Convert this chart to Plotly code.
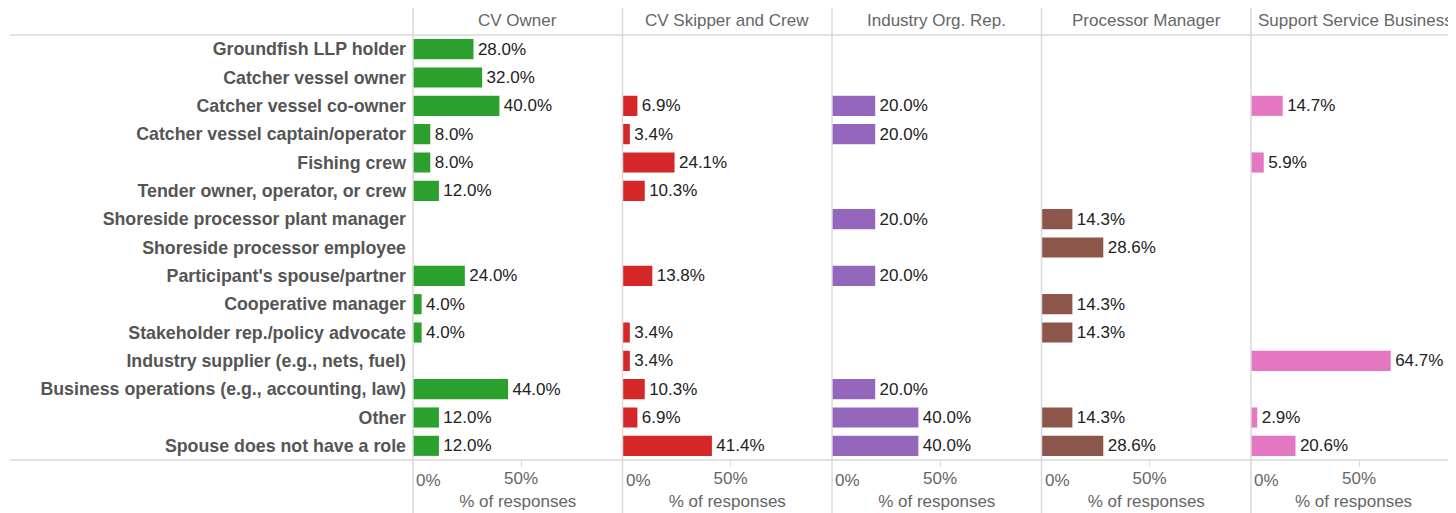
import plotly.graph_objects as go

roles = [
    "Groundfish LLP holder",
    "Catcher vessel owner",
    "Catcher vessel co-owner",
    "Catcher vessel captain/operator",
    "Fishing crew",
    "Tender owner, operator, or crew",
    "Shoreside processor plant manager",
    "Shoreside processor employee",
    "Participant's spouse/partner",
    "Cooperative manager",
    "Stakeholder rep./policy advocate",
    "Industry supplier (e.g., nets, fuel)",
    "Business operations (e.g., accounting, law)",
    "Other",
    "Spouse does not have a role",
]

groups = ["CV Owner", "CV Skipper and Crew", "Industry Org. Rep.",
          "Processor Manager", "Support Service Business"]
colors = ["#2ca02c", "#d62728", "#9467bd", "#8c564b", "#e377c2"]

cv_owner = [28.0, 32.0, 40.0, 8.0, 8.0, 12.0, None, None, 24.0, 4.0, 4.0, None, 44.0, 12.0, 12.0]
cv_skipper = [None, None, 6.9, 3.4, 24.1, 10.3, None, None, 13.8, None, 3.4, 3.4, 10.3, 6.9, 41.4]
industry_org = [None, None, 20.0, 20.0, None, None, 20.0, None, 20.0, None, None, None, 20.0, 40.0, 40.0]
processor_mgr = [None, None, None, None, None, None, 14.3, 28.6, None, 14.3, 14.3, None, None, 14.3, 28.6]
support_service = [None, None, 14.7, None, 5.9, None, None, None, None, None, None, 64.7, None, 2.9, 20.6]

series = [cv_owner, cv_skipper, industry_org, processor_mgr, support_service]

# page body has an 8px margin, so the figure is sized to end at the window edge
W, H = 1448, 505
L, R, T, B = 405, 0, 27, 53
plot_w = W - L - R
plot_h = H - T - B
panel_px = 209.5
px_per_pct = 2.16

FONT = "Liberation Sans, Arial, sans-serif"
GRID = "#d9d9d9"
FS = 17

fig = go.Figure()
layout = {}
annotations = []
shapes = []

for i, (name, vals, col) in enumerate(zip(groups, series, colors)):
    ax = "x" if i == 0 else f"x{i + 1}"
    key = "xaxis" if i == 0 else f"xaxis{i + 1}"
    d0 = i * panel_px / plot_w
    d1 = min(1.0, (i + 1) * panel_px / plot_w)
    width_px = (d1 - d0) * plot_w
    fig.add_trace(go.Bar(
        x=vals, y=roles, orientation="h", xaxis=ax, yaxis="y",
        marker=dict(color=col, line=dict(width=0)),
        text=[None if v is None else f"\u200a{v:.1f}%" for v in vals],
        textposition="outside", cliponaxis=False,
        textfont=dict(family=FONT, size=FS, color="#222"),
        showlegend=False, hoverinfo="skip",
    ))
    layout[key] = dict(
        domain=[d0, d1], anchor="y", range=[0, width_px / px_per_pct],
        showgrid=False, zeroline=False, showline=False,
        tickvals=[50], ticktext=["50%"], ticks="outside", ticklen=6,
        ticklabelstandoff=-3,
        tickcolor=GRID, tickfont=dict(family=FONT, size=FS, color="#666"),
        title=dict(text="% of responses", standoff=7,
                   font=dict(family=FONT, size=FS, color="#666")),
        fixedrange=True,
    )
    # "0%" label sits to the right of the panel edge, as in Tableau
    annotations.append(dict(
        x=0, xref=ax, y=-20 / plot_h, yref="paper", text="0%", showarrow=False,
        xanchor="left", yanchor="middle", xshift=1,
        font=dict(family=FONT, size=FS, color="#666"),
    ))
    # panel header
    annotations.append(dict(
        x=(d0 + (i + 1) * panel_px / plot_w) / 2, xref="paper",
        y=1 + 14 / plot_h, yref="paper", text=name, showarrow=False,
        xanchor="center", yanchor="middle",
        font=dict(family=FONT, size=FS, color="#666"),
    ))
    shapes.append(dict(
        type="line", xref="paper", yref="paper", x0=d0, x1=d0,
        y0=-B / plot_h, y1=1 + T / plot_h, line=dict(color=GRID, width=1.5),
    ))

for yy in (0, 1):
    shapes.append(dict(
        type="line", xref="paper", yref="paper", x0=-(L - 2) / plot_w, x1=1,
        y0=yy, y1=yy, line=dict(color=GRID, width=1.5),
    ))

fig.update_layout(
    **layout,
    yaxis=dict(
        categoryorder="array", categoryarray=roles, autorange="reversed",
        showgrid=False, zeroline=False, showline=False, ticks="",
        ticklabelstandoff=6,
        tickfont=dict(family=FONT, size=17.8, color="#555", weight="bold"),
        fixedrange=True,
    ),
    barmode="overlay", bargap=0.29,
    annotations=annotations, shapes=shapes,
    width=W, height=H,
    margin=dict(l=L, r=R, t=T, b=B, pad=0),
    paper_bgcolor="white", plot_bgcolor="white",
    font=dict(family=FONT),
)

fig.write_html("out.html")
